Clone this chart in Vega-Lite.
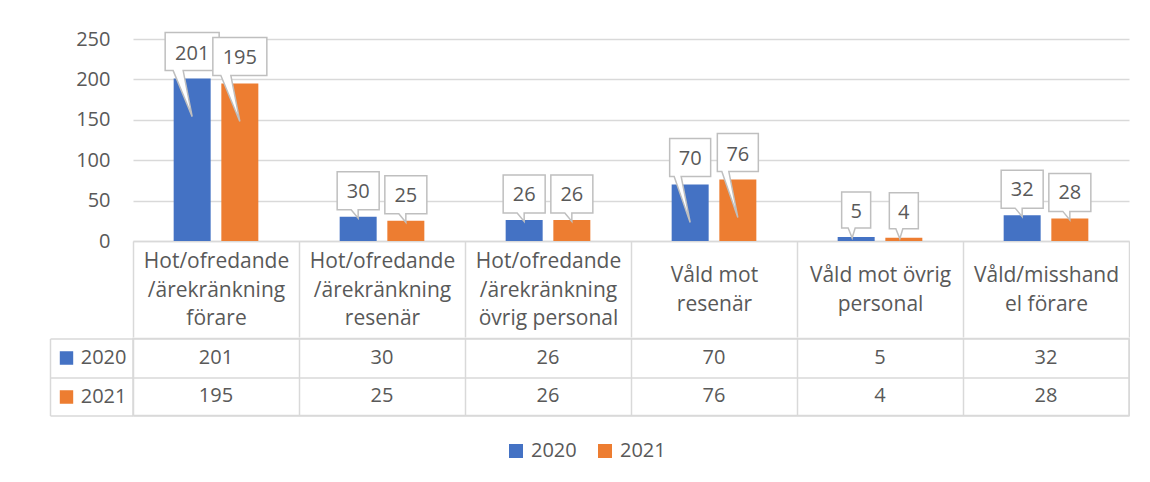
{
  "$schema": "https://vega.github.io/schema/vega-lite/v6.json",
  "padding": {"left": 42, "top": 29, "right": 0, "bottom": 30},
  "background": "white",
  "config": {
    "font": "Open Sans",
    "view": {"stroke": null},
    "axis": {"labelColor": "#595959", "labelFontSize": 20, "labelFont": "Open Sans"}
  },
  "datasets": {
    "d": [
      {"category": "Hot/ofredande\n/ärekränkning\nförare", "year": "2020", "value": 201},
      {"category": "Hot/ofredande\n/ärekränkning\nförare", "year": "2021", "value": 195},
      {"category": "Hot/ofredande\n/ärekränkning\nresenär", "year": "2020", "value": 30},
      {"category": "Hot/ofredande\n/ärekränkning\nresenär", "year": "2021", "value": 25},
      {"category": "Hot/ofredande\n/ärekränkning\növrig personal", "year": "2020", "value": 26},
      {"category": "Hot/ofredande\n/ärekränkning\növrig personal", "year": "2021", "value": 26},
      {"category": "Våld mot\nresenär", "year": "2020", "value": 70},
      {"category": "Våld mot\nresenär", "year": "2021", "value": 76},
      {"category": "Våld mot övrig\npersonal", "year": "2020", "value": 5},
      {"category": "Våld mot övrig\npersonal", "year": "2021", "value": 4},
      {"category": "Våld/misshand\nel förare", "year": "2020", "value": 32},
      {"category": "Våld/misshand\nel förare", "year": "2021", "value": 28}
    ]
  },
  "data": {"name": "d"},
  "spacing": -10.5,
  "vconcat": [
    {
      "width": 996,
      "height": 202,
      "layer": [
        {
          "mark": {"type": "bar"},
          "encoding": {
            "x": {
              "field": "category", "type": "nominal", "sort": null,
              "scale": {"paddingInner": 0, "paddingOuter": 0},
              "axis": {
                "title": null,
                "labelExpr": "split(datum.label, '\\n')",
                "labelAngle": 0, "labelAlign": "center",
                "labelBaseline": {"condition": {"test": "indexof(datum.label, 'Våld') == 0", "value": "line-top"}, "value": "middle"},
                "labelPadding": -75.5,
                "labelLineHeight": 28.5, "labelLimit": 300, "labelFontSize": 21,
                "labelOverlap": false, "labelBound": false,
                "tickBand": "extent", "ticks": true, "tickSize": 96,
                "tickColor": "#d9d9d9", "tickWidth": 1.5,
                "domain": true, "domainColor": "#d9d9d9", "domainWidth": 1.5,
                "grid": false
              }
            },
            "xOffset": {"field": "year", "type": "nominal", "scale": {"paddingInner": 0.224, "paddingOuter": 0.853}},
            "y": {
              "field": "value", "type": "quantitative",
              "scale": {"domain": [0, 250], "nice": false},
              "axis": {
                "title": null, "values": [0, 50, 100, 150, 200, 250],
                "grid": true, "gridColor": "#d9d9d9", "gridWidth": 1.3,
                "domain": false, "ticks": false, "labelPadding": 23
              }
            },
            "color": {
              "field": "year", "type": "nominal",
              "scale": {"domain": ["2020", "2021"], "range": ["#4472C4", "#ED7D31"]},
              "legend": {
                "title": null, "orient": "none", "legendX": 373, "legendY": 402,
                "direction": "horizontal", "symbolType": "square", "symbolSize": 196,
                "symbolStrokeWidth": 0, "labelFontSize": 20, "labelColor": "#595959",
                "labelFont": "Open Sans", "columnPadding": 18, "labelOffset": 5, "padding": 0
              }
            }
          }
        },
        {
          "mark": {"type": "point", "filled": true, "fill": "white", "stroke": "#bfbfbf", "strokeWidth": 1.5, "size": 4, "opacity": 1},
          "encoding": {
            "x": {"field": "category", "type": "nominal", "sort": null},
            "xOffset": {"field": "year", "type": "nominal"},
            "y": {"field": "value", "type": "quantitative"},
            "shape": {
              "condition": [
                {"test": "datum.value >= 100", "value": "M-27,-46H27V-8H-9L0,38L-19,-8H-27Z"},
                {"test": "datum.value >= 50", "value": "M-20.5,-46H20.5V-8H-9L0,38L-16,-8H-20.5Z"},
                {"test": "datum.value >= 10", "value": "M-21,-45H21V-7H0L0,1.5L-7,-7H-21Z"}
              ],
              "value": "M-14.5,-45H14.5V-9H-1L-4,1L-8,-9H-14.5Z"
            }
          }
        },
        {
          "mark": {"type": "text", "dy": -25, "fontSize": 20, "fill": "#595959", "baseline": "middle", "font": "Open Sans"},
          "encoding": {
            "x": {"field": "category", "type": "nominal", "sort": null},
            "xOffset": {"field": "year", "type": "nominal"},
            "y": {"field": "value", "type": "quantitative"},
            "text": {"field": "value", "type": "quantitative"}
          }
        }
      ]
    },
    {
      "width": 996,
      "height": 77,
      "view": {"stroke": "#d9d9d9", "strokeWidth": 1.5},
      "layer": [
        {
          "mark": {"type": "rect", "fillOpacity": 0},
          "encoding": {
            "x": {
              "field": "category", "type": "nominal", "sort": null,
              "scale": {"paddingInner": 0, "paddingOuter": 0},
              "axis": {
                "title": null, "labels": false, "ticks": false, "domain": false,
                "grid": true, "gridColor": "#d9d9d9", "gridWidth": 1.5, "tickBand": "extent"
              }
            },
            "y": {
              "field": "year", "type": "nominal", "sort": null,
              "scale": {"paddingInner": 0, "paddingOuter": 0},
              "axis": {
                "title": null, "orient": "left", "grid": true, "gridColor": "#d9d9d9", "gridWidth": 1.5,
                "tickBand": "extent", "ticks": true, "tickSize": 83, "tickColor": "#d9d9d9", "tickWidth": 1.5,
                "domain": false, "labelAlign": "right", "labelBaseline": "middle", "labelPadding": -76
              }
            }
          }
        },
        {
          "mark": {"type": "text", "fontSize": 20, "fill": "#595959", "baseline": "middle", "font": "Open Sans"},
          "encoding": {
            "x": {"field": "category", "type": "nominal", "sort": null},
            "y": {
              "field": "year", "type": "nominal", "sort": null,
              "scale": {"paddingInner": 0, "paddingOuter": 0},
              "axis": {
                "title": null, "orient": "left", "offset": 83,
                "domain": true, "domainColor": "#d9d9d9", "domainWidth": 1.5,
                "labels": false, "grid": false, "ticks": true,
                "tickSize": -22.7, "tickWidth": 13.4, "tickDash": [0, 9.3, 13.4, 50],
                "tickColor": {"condition": {"test": "datum.value == '2020'", "value": "#4472C4"}, "value": "#ED7D31"}
              }
            },
            "text": {"field": "value", "type": "quantitative"}
          }
        }
      ],
      "resolve": {"scale": {"y": "independent"}}
    }
  ]
}
